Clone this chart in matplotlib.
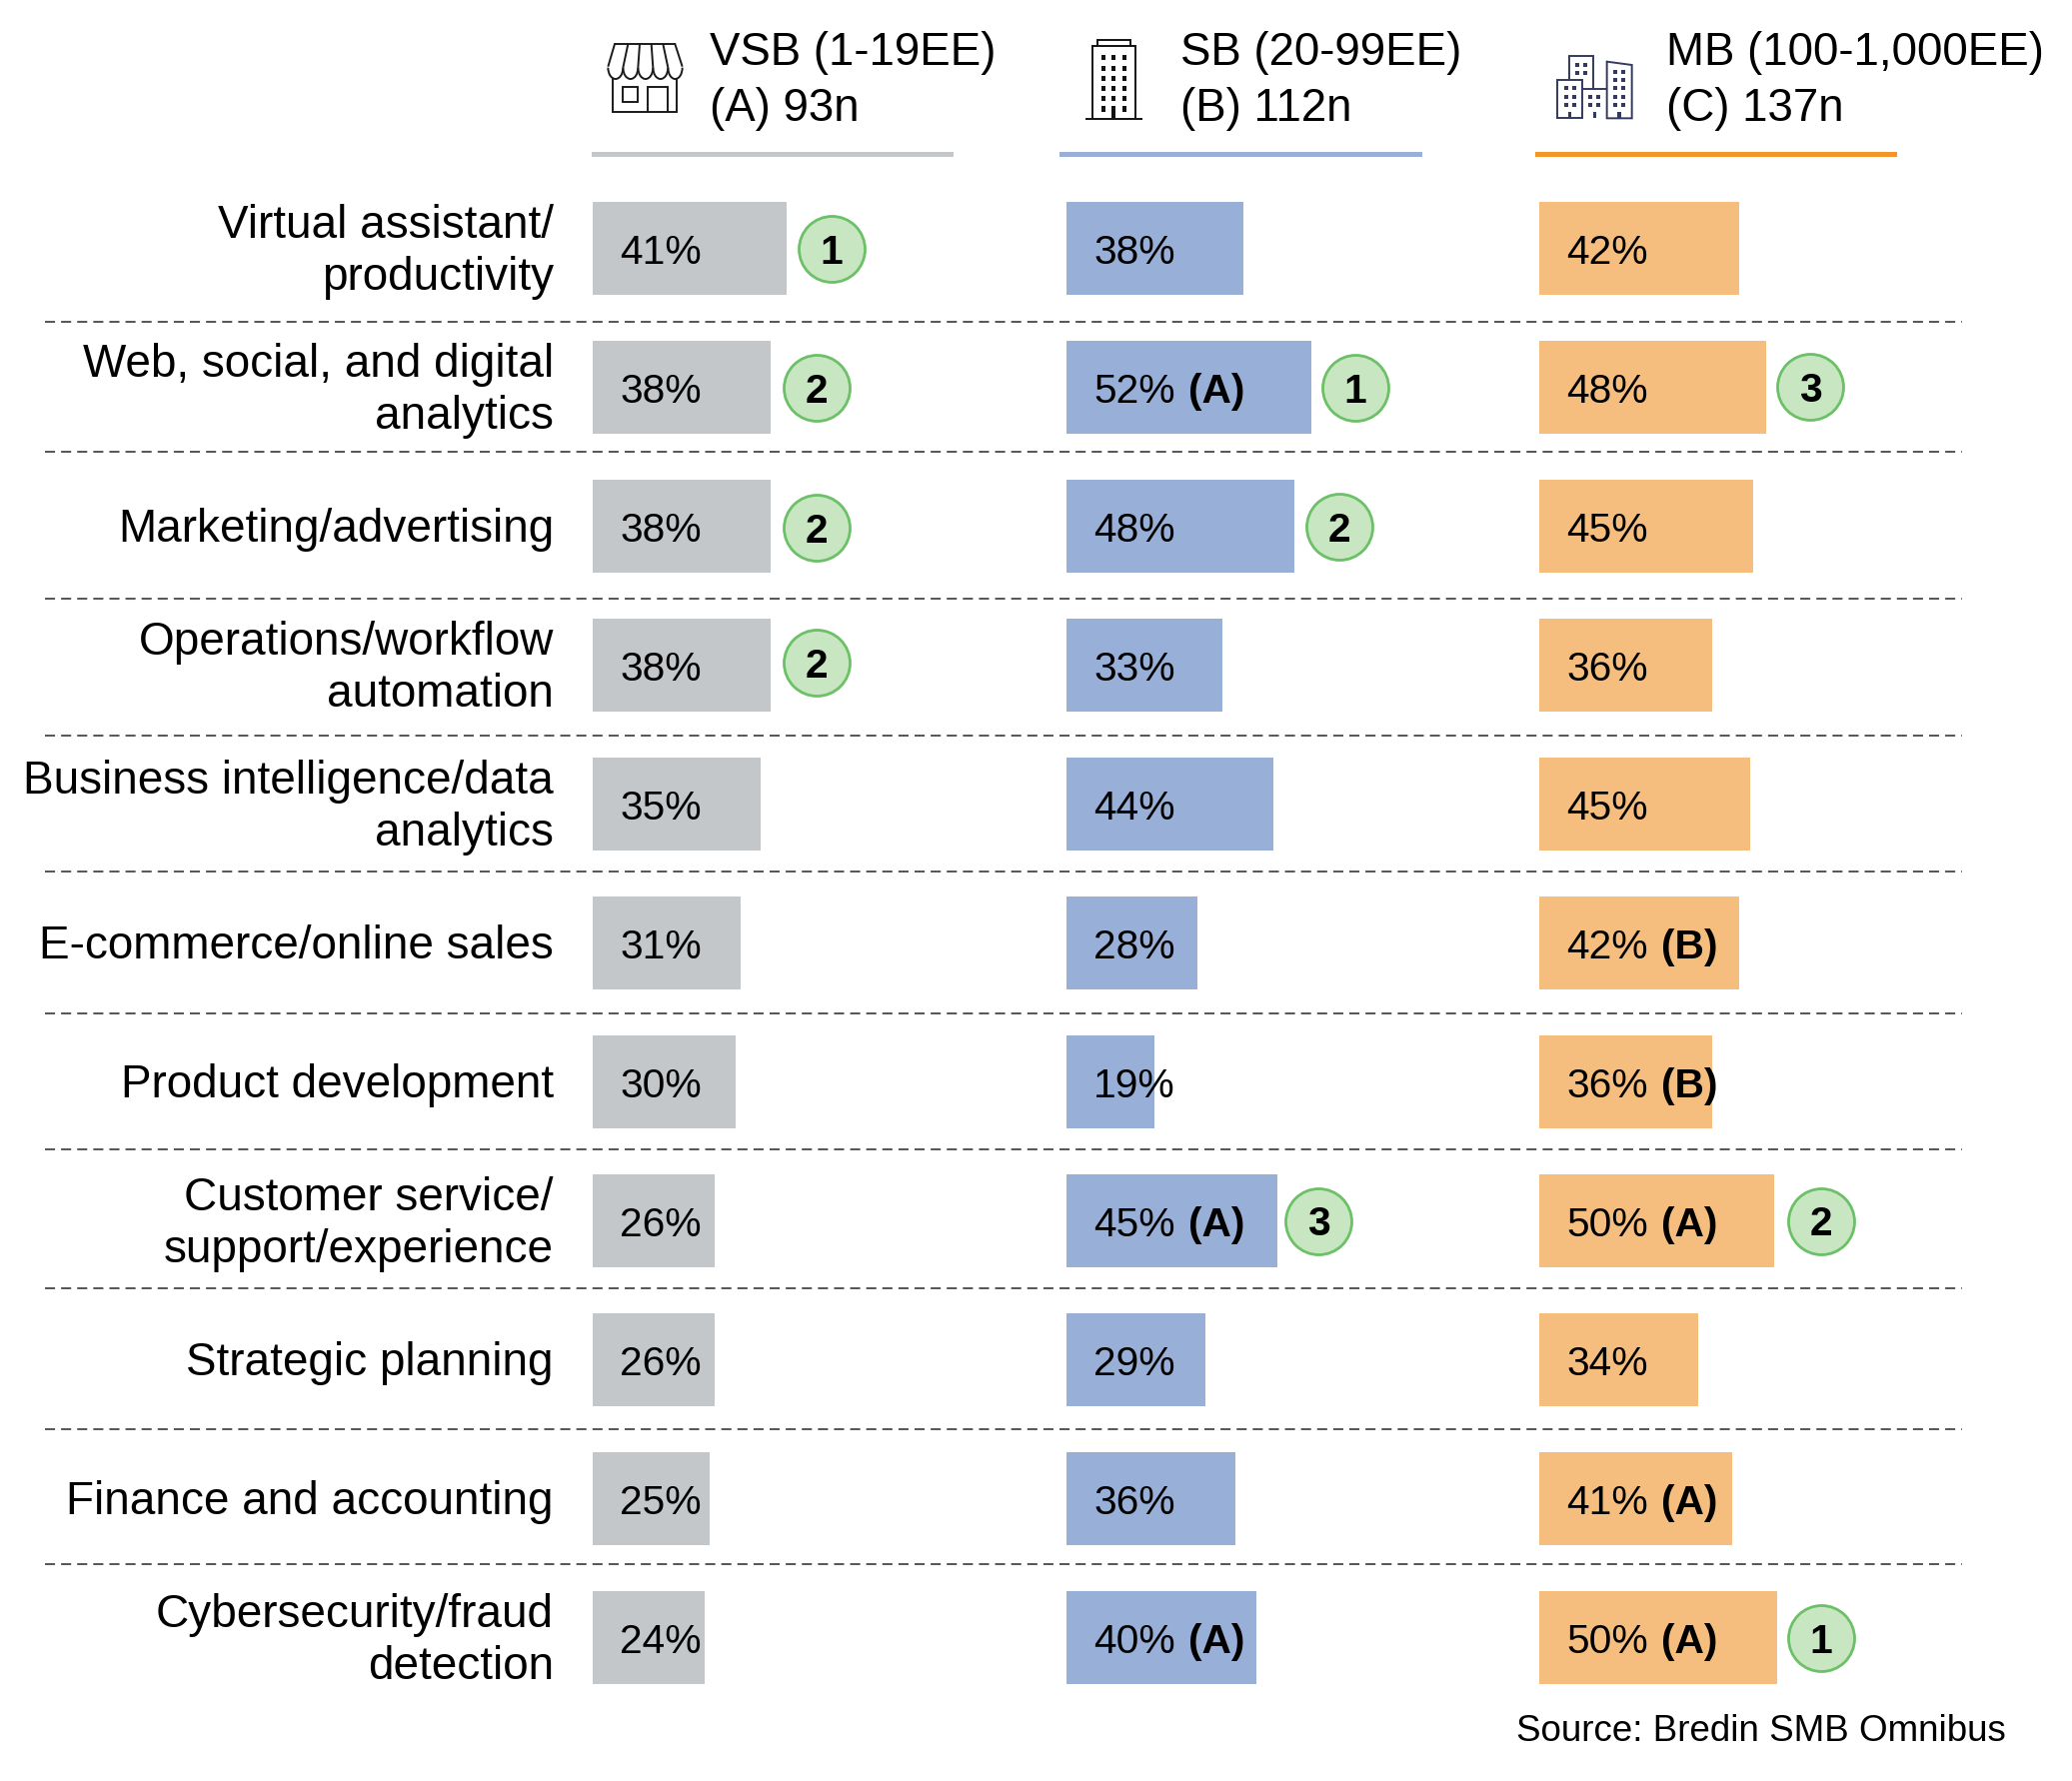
import matplotlib
matplotlib.use("Agg")
import matplotlib.pyplot as plt
from matplotlib.patches import Rectangle, Polygon, Arc

plt.rcParams['font.family'] = ['Liberation Sans', 'DejaVu Sans']

# ---- data -------------------------------------------------------------
categories = ["Virtual assistant/\nproductivity", "Web, social, and digital\nanalytics",
              "Marketing/advertising", "Operations/workflow\nautomation",
              "Business intelligence/data\nanalytics", "E-commerce/online sales",
              "Product development", "Customer service/\nsupport/experience",
              "Strategic planning", "Finance and accounting",
              "Cybersecurity/fraud\ndetection"]
vsb_values = [41.2, 37.8, 37.8, 37.8, 35.8, 31.5, 30.5, 26.0, 26.0, 24.9, 23.8]
sb_values = [37.6, 52.1, 48.5, 33.1, 44.1, 27.8, 18.7, 44.9, 29.5, 36.0, 40.4]
mb_values = [42.6, 48.4, 45.5, 36.8, 44.9, 42.6, 36.8, 50.0, 33.8, 41.0, 50.6]
vsb_labels = ["41%", "38%", "38%", "38%", "35%", "31%", "30%", "26%", "26%", "25%", "24%"]
sb_labels = ["38%", "52%", "48%", "33%", "44%", "28%", "19%", "45%", "29%", "36%", "40%"]
mb_labels = ["42%", "48%", "45%", "36%", "45%", "42%", "36%", "50%", "34%", "41%", "50%"]
vsb_sig = ["", "", "", "", "", "", "", "", "", "", ""]
sb_sig = ["", "(A)", "", "", "", "", "", "(A)", "", "", "(A)"]
mb_sig = ["", "", "", "", "", "(B)", "(B)", "(A)", "", "(A)", "(A)"]
vsb_rank = [1, 2, 2, 2, 0, 0, 0, 0, 0, 0, 0]
sb_rank = [0, 1, 2, 0, 0, 0, 0, 3, 0, 0, 0]
mb_rank = [0, 3, 0, 0, 0, 0, 0, 2, 0, 0, 1]
headers = ["VSB (1-19EE)\n(A) 93n", "SB (20-99EE)\n(B) 112n", "MB (100-1,000EE)\n(C) 137n"]
source = "Source: Bredin SMB Omnibus"

# ---- layout -----------------------------------------------------------
W, H = 2073, 1782
DPI = 100
PX_PER_PCT = 4.7
ROW0 = 248.5
ROW_PITCH = 139.0
GREY, BLUE, ORANGE = "#C4C7CA", "#98AFD7", "#F6BE7E"
NAVY = "#333A5E"
# small per-badge nudges (dx, dy in pixels), keyed by (panel, row)
NUDGE = {(0, 1): (1, 0), (0, 2): (1, 1), (0, 3): (1, -3),
         (1, 1): (-1, 0), (1, 7): (-4, 0),
         (2, 1): (-1, -1), (2, 7): (2, 0), (2, 10): (-1, 0)}

fig = plt.figure(figsize=(W / DPI, H / DPI), dpi=DPI, facecolor="white")

ov = fig.add_axes([0, 0, 1, 1])
ov.set_xlim(0, W)
ov.set_ylim(H, 0)
ov.axis("off")


def panel(idx, left_px, values, labels, sig, rank, color):
    ax = fig.add_axes([0, 0, 1, 1], facecolor="none")
    ax.set_xlim(-left_px / PX_PER_PCT, (W - left_px) / PX_PER_PCT)
    ax.set_ylim((H - ROW0) / ROW_PITCH, -ROW0 / ROW_PITCH)
    ax.axis("off")
    ys = list(range(len(values)))
    ax.barh(ys, values, height=93 / ROW_PITCH, left=0, color=color, linewidth=0)
    for y, v, lab, s, r in zip(ys, values, labels, sig, rank):
        base = y + 15.5 / ROW_PITCH
        ax.text(27 / PX_PER_PCT, base, lab, fontsize=29.3, color="black",
                ha="left", va="baseline")
        if s:
            ax.text((27 + 95) / PX_PER_PCT, base, s, fontsize=29.3, color="black",
                    fontweight="bold", ha="left", va="baseline")
        if r:
            dx, dy = NUDGE.get((idx, y), (0, 0))
            cx = v + (45 + dx) / PX_PER_PCT
            cy = y + dy / ROW_PITCH
            ax.scatter([cx], [cy], s=(66 / DPI * 72) ** 2, facecolor="#C8E6C2",
                       edgecolor="#6CC067", linewidth=2.0, zorder=3)
            ax.text(cx, cy + 15 / ROW_PITCH, str(r), fontsize=29.3, fontweight="bold",
                    color="black", ha="center", va="baseline", zorder=4)
    return ax


panel(0, 593, vsb_values, vsb_labels, vsb_sig, vsb_rank, GREY)
panel(1, 1067, sb_values, sb_labels, sb_sig, sb_rank, BLUE)
panel(2, 1540, mb_values, mb_labels, mb_sig, mb_rank, ORANGE)

# row labels
for i, c in enumerate(categories):
    yc = ROW0 + i * ROW_PITCH
    parts = c.split("\n")
    bases = [yc - 10.5, yc + 41.5] if len(parts) == 2 else [yc + 15.5]
    for b, p in zip(bases, parts):
        ov.text(554, b, p, fontsize=33, color="black", ha="right", va="baseline")

# separators
dash_y = [322, 452, 599, 736, 872, 1014, 1150, 1289, 1430, 1565]
for y in dash_y:
    ov.plot([45, 1963], [y, y], color="#595959", lw=1.45,
            dashes=(10 / 2.0, 6 / 2.0), dash_capstyle="butt")

# headers
header_x = [710, 1181, 1667]
rule_x = [(592, 954), (1060, 1423), (1536, 1898)]
rule_c = [GREY, BLUE, "#F29429"]
for hx, h, rx, rc in zip(header_x, headers, rule_x, rule_c):
    l1, l2 = h.split("\n")
    ov.text(hx, 65, l1, fontsize=32.9, color="black", ha="left", va="baseline")
    ov.text(hx, 121, l2, fontsize=32.9, color="black", ha="left", va="baseline")
    ov.add_patch(Rectangle((rx[0], 151.5), rx[1] - rx[0], 5, color=rc, lw=0))


# ---- icons ------------------------------------------------------------
def to_px(ox, oy, pts):
    return [(ox + x / 3, oy + y / 3) for x, y in pts]


def poly(ox, oy, pts, color, lw=1.4, closed=True, fill="none"):
    ov.add_patch(Polygon(to_px(ox, oy, pts), closed=closed, fc=fill, ec=color, lw=lw,
                         joinstyle="miter"))


def box(ox, oy, xc, yc, w, h, color):
    x, y = ox + (xc - w / 2) / 3, oy + (yc - h / 2) / 3
    ov.add_patch(Rectangle((x, y), w / 3, h / 3, fc=color, ec="none"))


# store
ox, oy = 600, 20
c = "#1A1A1A"
poly(ox, oy, [(40, 175), (40, 277), (232, 277), (232, 175)], c, closed=False)
poly(ox, oy, [(68, 200), (115, 200), (115, 246), (68, 246)], c)
poly(ox, oy, [(145, 277), (145, 200), (205, 200), (205, 277)], c, closed=False)
poly(ox, oy, [(25, 140), (45, 72), (226, 72), (248, 140)], c, closed=False)
for t, b in zip([85, 120, 155, 190], [70, 115, 160, 205]):
    poly(ox, oy, [(t, 72), (b, 143)], c, closed=False)
edges = [25, 70, 115, 160, 205, 248]
for a, b in zip(edges[:-1], edges[1:]):
    cx = ox + (a + b) / 6
    ov.add_patch(Arc((cx, oy + 143 / 3), (b - a) / 3, 68 / 3, theta1=0, theta2=180,
                     ec=c, lw=1.4))

# tower
ox, oy = 1080, 20
c = "#111111"
poly(ox, oy, [(55, 78), (55, 60), (152, 60), (152, 78)], c, closed=False)
poly(ox, oy, [(40, 295), (40, 78), (167, 78), (167, 295)], c, closed=False)
poly(ox, oy, [(17, 296), (190, 296)], c, closed=False)
for xc in (72, 103, 134):
    for yc in (113, 145, 175, 205, 236, 267):
        if xc == 103 and yc == 267:
            continue
        box(ox, oy, xc, yc, 12, 17, c)
box(ox, oy, 103, 277, 12, 36, c)

# city
ox, oy = 1550, 30
poly(ox, oy, [(60, 150), (60, 78), (133, 78), (133, 177)], NAVY, closed=False)
poly(ox, oy, [(25, 265), (25, 150), (100, 150), (100, 265)], NAVY)
poly(ox, oy, [(100, 177), (173, 177)], NAVY, closed=False)
poly(ox, oy, [(173, 265), (173, 95), (248, 105), (248, 265)], NAVY)
for xc, yc in [(84, 104), (108, 104), (84, 128), (108, 128),
               (50, 175), (74, 175), (50, 200), (74, 200), (50, 225), (74, 225),
               (124, 200), (148, 200), (124, 225), (148, 225),
               (198, 125), (222, 125), (198, 150), (222, 150), (198, 175), (222, 175),
               (198, 200), (222, 200), (198, 225), (222, 225)]:
    box(ox, oy, xc, yc, 12, 12, NAVY)
for xc in (62, 136, 210):
    box(ox, oy, xc, 255, 10, 20, NAVY)

ov.text(2007, 1741.5, source, fontsize=26.5, color="black", ha="right", va="baseline")

fig.savefig("out.png", dpi=DPI)
